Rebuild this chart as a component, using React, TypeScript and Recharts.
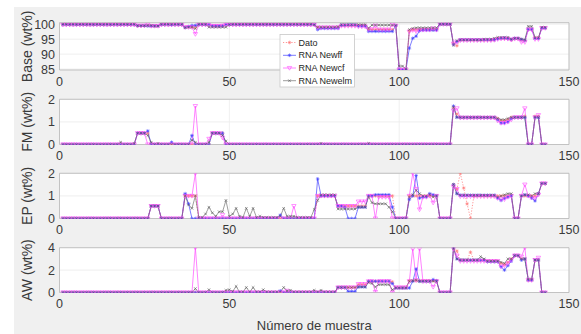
import React from 'react';
import { LineChart, Line, XAxis, YAxis, CartesianGrid, ReferenceArea } from 'recharts';

const FONT = '"Liberation Sans", Arial, Helvetica, sans-serif';
const W = 581;
const H = 334;
const PLOT_L = 59.5;
const PLOT_R = 569;
const YAXIS_W = 40;

const X_TICKS = [0, 50, 100, 150];
const X_LABEL = 'Número de muestra';

// ---------- Base (wt%) ----------
const BASE_DATO = [
  99.9, 99.9, 99.9, 99.9, 99.9, 99.9, 99.9, 99.9, 99.9, 99.9,
  99.9, 99.9, 99.9, 99.9, 99.9, 99.9, 99.9, 99.9, 99.9, 99.9,
  99.9, 99.9, 99.5, 99.5, 99.5, 99.5, 99.4, 99.4, 99.4, 99.9,
  99.9, 99.9, 99.9, 99.9, 99.9, 99.9, 99.0, 99.0, 99.0, 99.0,
  99.9, 99.9, 99.9, 99.9, 99.5, 99.5, 99.5, 99.5, 99.9, 99.9,
  99.9, 99.9, 99.9, 99.9, 99.9, 99.9, 99.9, 99.9, 99.9, 99.9,
  99.9, 99.9, 99.9, 99.9, 99.9, 99.9, 99.9, 99.9, 99.9, 99.9,
  99.9, 99.9, 99.9, 99.9, 99.9, 98.9, 98.9, 98.9, 98.9, 98.9,
  98.9, 98.9, 99.6, 99.6, 99.6, 99.6, 99.6, 99.5, 99.5, 99.5,
  98.2, 98.2, 98.2, 98.2, 98.2, 98.2, 98.2, 98.2, 99.5, 84.8,
  84.8, 84.8, 97.8, 98.2, 98.2, 98.2, 98.2, 98.2, 98.2, 98.2,
  98.2, 100, 100, 100, 100, 93.5, 92.8, 94.7, 94.7, 94.7,
  94.7, 94.7, 94.7, 94.7, 94.7, 94.7, 94.7, 94.8, 95.2, 95.2,
  95.2, 95.2, 94.8, 95.2, 95.2, 94.8, 94.6, 98.3, 98.3, 95.5,
  95.5, 98.7, 98.7,
];
const BASE_FF = [
  99.9, 99.9, 99.9, 99.9, 99.9, 99.9, 99.9, 99.9, 99.9, 99.9,
  99.9, 99.9, 99.9, 99.9, 99.9, 99.9, 99.9, 99.9, 99.9, 99.9,
  99.9, 99.9, 99.5, 99.5, 99.5, 99.4, 99.4, 99.4, 99.4, 99.9,
  99.9, 99.9, 99.8, 99.9, 99.9, 99.9, 98.9, 99.2, 99.6, 99.6,
  99.9, 99.9, 99.9, 99.9, 99.4, 99.4, 99.4, 99.4, 99.9, 99.9,
  99.9, 99.9, 99.9, 99.9, 99.9, 99.9, 99.9, 99.9, 99.9, 99.9,
  99.9, 99.9, 99.9, 99.9, 99.9, 99.9, 99.9, 99.9, 99.9, 99.9,
  99.9, 99.9, 99.9, 99.9, 99.9, 98.2, 98.6, 98.6, 98.6, 98.6,
  98.6, 98.6, 99.7, 99.7, 99.8, 99.8, 99.8, 99.4, 99.4, 99.4,
  97.6, 97.6, 97.6, 97.6, 97.6, 97.6, 97.6, 97.6, 99.5, 84.8,
  84.8, 84.8, 92.0, 95.3, 96.0, 97.8, 98.0, 98.0, 98.0, 98.0,
  98.0, 100, 100, 100, 100, 93.2, 94.2, 94.8, 94.8, 94.8,
  94.8, 94.8, 94.8, 94.8, 94.8, 94.8, 94.8, 94.8, 95.1, 95.3,
  95.4, 95.2, 94.9, 95.3, 95.3, 94.9, 94.6, 98.3, 98.3, 95.3,
  95.3, 98.7, 98.7,
];
const BASE_CF = [
  99.8, 99.8, 99.8, 99.8, 99.8, 99.8, 99.8, 99.8, 99.8, 99.8,
  99.8, 99.8, 99.8, 99.8, 99.8, 99.8, 99.8, 99.8, 99.8, 99.8,
  99.8, 99.8, 99.5, 99.5, 99.5, 99.8, 99.4, 99.4, 99.4, 99.8,
  99.8, 99.8, 99.8, 99.8, 99.8, 99.8, 99.0, 99.0, 99.0, 96.7,
  99.8, 99.8, 99.8, 99.6, 99.4, 99.4, 99.4, 99.5, 99.8, 99.8,
  99.8, 99.8, 99.8, 99.8, 99.8, 99.8, 99.8, 99.8, 99.8, 99.8,
  99.8, 99.8, 99.8, 99.8, 99.8, 99.8, 99.8, 99.8, 99.8, 99.8,
  99.8, 99.8, 99.8, 99.8, 99.8, 98.9, 98.9, 98.9, 98.9, 98.9,
  98.9, 98.9, 99.4, 99.4, 99.4, 99.4, 99.4, 99.2, 99.2, 99.2,
  98.3, 98.3, 99.5, 98.2, 98.2, 98.2, 98.2, 99.8, 99.5, 84.8,
  84.8, 84.8, 97.5, 98.0, 97.6, 98.0, 98.1, 98.1, 98.1, 98.6,
  98.1, 100, 100, 100, 100, 93.5, 94.0, 94.6, 94.6, 94.6,
  94.6, 94.6, 94.6, 94.6, 94.6, 94.6, 94.6, 94.7, 95.0, 95.2,
  95.2, 95.1, 94.8, 95.1, 95.1, 94.0, 94.0, 98.2, 98.2, 95.0,
  95.0, 98.7, 98.7,
];
const BASE_ELM = [
  100, 100, 100, 100, 100, 100, 100, 100, 100, 100,
  100, 100, 100, 100, 100, 100, 100, 100, 100, 100,
  100, 100, 99.5, 99.5, 99.5, 99.6, 99.6, 99.4, 99.4, 100,
  100, 100, 100, 100, 100, 100, 98.8, 99.0, 99.0, 98.5,
  100, 100, 100, 99.0, 99.0, 99.0, 99.0, 99.0, 99.0, 99.9,
  100, 100, 100, 100, 100, 100, 100, 100, 100, 100,
  100, 100, 100, 100, 100, 100, 100, 100, 100, 100,
  100, 100, 100, 100, 99.8, 99.0, 99.0, 99.0, 99.0, 99.0,
  99.0, 99.2, 99.9, 99.9, 99.9, 99.9, 99.9, 99.9, 99.9, 99.9,
  98.7, 99.7, 99.7, 99.7, 99.7, 99.7, 99.7, 99.7, 99.6, 86.0,
  86.0, 85.0, 98.2, 98.6, 98.8, 98.8, 98.8, 98.8, 98.8, 98.8,
  98.8, 100, 100, 100, 100, 93.0, 94.5, 94.8, 94.8, 94.8,
  94.8, 94.8, 94.8, 94.8, 95.0, 95.0, 95.0, 95.3, 95.6, 95.6,
  95.6, 95.6, 95.0, 95.3, 95.3, 95.0, 94.8, 99.3, 99.3, 95.5,
  95.5, 99.0, 99.0,
];

// ---------- FM (wt%) ----------
const FM_DATO = [
  0, 0, 0, 0, 0, 0, 0, 0, 0, 0,
  0, 0, 0, 0, 0, 0, 0, 0, 0, 0,
  0, 0, 0.5, 0.5, 0.5, 0.5, 0, 0, 0, 0,
  0, 0, 0, 0, 0, 0, 0, 0, 0, 0,
  0, 0, 0, 0, 0.5, 0.5, 0.5, 0.5, 0, 0,
  0, 0, 0, 0, 0, 0, 0, 0, 0, 0,
  0, 0, 0, 0, 0, 0, 0, 0, 0, 0,
  0, 0, 0, 0, 0, 0, 0, 0, 0, 0,
  0, 0, 0, 0, 0, 0, 0, 0, 0, 0,
  0, 0, 0, 0, 0, 0, 0, 0, 0, 0,
  0, 0, 0, 0, 0, 0, 0, 0, 0, 0,
  0, 0, 0, 0, 0, 1.65, 1.35, 1.2, 1.2, 1.2,
  1.2, 1.2, 1.2, 1.2, 1.2, 1.2, 1.2, 1.2, 1.15, 1.05,
  1.05, 1.1, 1.2, 1.2, 1.2, 1.2, 1.25, 0, 0, 1.25,
  1.25, 0, 0,
];
const FM_FF = [
  0, 0, 0, 0, 0, 0, 0, 0, 0, 0,
  0, 0, 0, 0, 0, 0, 0, 0, 0, 0,
  0, 0, 0.5, 0.5, 0.5, 0.6, 0, 0, 0, 0,
  0, 0, 0.1, 0, 0, 0, 0, 0, 0.4, 0,
  0, 0, 0, 0, 0.5, 0.5, 0.5, 0.5, 0, 0,
  0, 0, 0, 0, 0, 0, 0, 0, 0, 0,
  0, 0, 0, 0, 0, 0, 0, 0, 0, 0,
  0, 0, 0, 0, 0, 0, 0, 0, 0, 0,
  0, 0, 0, 0, 0, 0, 0, 0, 0, 0,
  0, 0, 0, 0, 0, 0, 0, 0, 0, 0,
  0, 0, 0, 0, 0, 0, 0, 0, 0, 0,
  0, 0, 0, 0, 0, 1.7, 1.2, 1.2, 1.2, 1.2,
  1.2, 1.2, 1.2, 1.2, 1.2, 1.2, 1.2, 1.2, 1.1, 0.95,
  0.95, 1.0, 1.15, 1.2, 1.2, 1.2, 1.2, 0, 0, 1.2,
  1.2, 0, 0,
];
const FM_CF = [
  0, 0, 0, 0, 0, 0, 0, 0, 0, 0,
  0, 0, 0, 0, 0, 0, 0, 0, 0, 0,
  0, 0, 0.5, 0.5, 0.5, 0, 0, 0, 0, 0,
  0, 0, 0, 0, 0, 0, 0, 0, 0, 1.7,
  0, 0, 0, 0.25, 0.5, 0.5, 0.5, 0.3, 0, 0,
  0, 0, 0, 0, 0, 0, 0, 0, 0, 0,
  0, 0, 0, 0, 0, 0, 0, 0, 0, 0,
  0, 0, 0, 0, 0, 0, 0, 0, 0, 0,
  0, 0, 0, 0, 0, 0, 0, 0, 0, 0,
  0, 0, 0, 0, 0, 0, 0, 0, 0, 0,
  0, 0, 0, 0, 0, 0, 0, 0, 0, 0,
  0, 0, 0, 0, 0, 1.5, 1.6, 1.18, 1.18, 1.18,
  1.18, 1.18, 1.18, 1.18, 1.18, 1.18, 1.18, 1.18, 1.05, 0.95,
  0.95, 1.0, 1.1, 1.2, 1.2, 1.2, 1.6, 0, 0, 1.2,
  1.3, 0, 0,
];
const FM_ELM = [
  0, 0, 0, 0, 0, 0, 0, 0, 0, 0,
  0, 0, 0, 0, 0, 0, 0, 0.1, 0, 0,
  0, 0.05, 0.5, 0.5, 0.5, 0.4, 0.1, 0, 0.05, 0,
  0, 0, 0, 0, 0, 0, 0, 0, 0.2, 0.1,
  0, 0, 0, 0.1, 0.5, 0.5, 0.5, 0.4, 0.15, 0,
  0, 0, 0, 0, 0, 0, 0, 0, 0, 0,
  0, 0, 0, 0, 0, 0, 0, 0, 0, 0,
  0, 0, 0, 0, 0, 0, 0.05, 0, 0, 0,
  0, 0, 0, 0, 0, 0, 0, 0, 0, 0,
  0.05, 0, 0, 0, 0, 0, 0, 0, 0, 0,
  0, 0, 0, 0, 0, 0, 0, 0, 0, 0,
  0, 0, 0, 0, 0, 1.65, 1.2, 1.2, 1.2, 1.2,
  1.2, 1.2, 1.2, 1.2, 1.2, 1.2, 1.2, 1.2, 1.15, 1.1,
  1.1, 1.15, 1.2, 1.2, 1.2, 1.2, 1.2, 0, 0, 1.2,
  1.2, 0, 0,
];

// ---------- EP (wt%) ----------
const EP_DATO = [
  0, 0, 0, 0, 0, 0, 0, 0, 0, 0,
  0, 0, 0, 0, 0, 0, 0, 0, 0, 0,
  0, 0, 0, 0, 0, 0, 0.55, 0.55, 0.55, 0,
  0, 0, 0, 0, 0, 0, 1, 1, 1, 1,
  0, 0, 0, 0, 0, 0, 0, 0, 0, 0,
  0, 0, 0, 0, 0, 0, 0, 0, 0, 0,
  0, 0, 0, 0, 0, 0, 0, 0, 0, 0,
  0, 0, 0, 0, 0, 1, 1, 1, 1, 1,
  1, 0.55, 0.55, 0.55, 0.55, 0.55, 0.55, 0.55, 0.55, 0.55,
  1, 1, 1, 1, 1, 1, 1, 1, 0, 0,
  0, 0, 1, 1, 1, 1, 1, 1, 1, 1,
  1, 0, 0, 0, 0, 1.5, 1.3, 2.0, 1.35, 0.65,
  0, 1, 1, 1, 1, 1, 1, 1, 1, 1,
  1, 1, 1, 0, 0, 1, 1, 1, 1, 1,
  1.1, 1.55, 1.55,
];
const EP_FF = [
  0, 0, 0, 0, 0, 0, 0, 0, 0, 0,
  0, 0, 0, 0, 0, 0, 0, 0, 0, 0,
  0, 0, 0, 0, 0, 0, 0.55, 0.55, 0.55, 0,
  0, 0, 0, 0, 0, 0, 1.1, 0.65, 0, 0,
  0, 0, 0, 0, 0, 0, 0, 0, 0, 0,
  0, 0, 0, 0, 0, 0, 0, 0, 0, 0,
  0, 0, 0, 0, 0.15, 0, 0, 0, 0, 0,
  0, 0, 0, 0, 0, 1.75, 1, 1, 1, 1,
  1, 0.55, 0.55, 0.5, 0, 0, 0, 0.5, 0.5, 0.5,
  1, 1, 1.05, 1.05, 1.05, 1.05, 1.05, 0.5, 0, 0,
  0, 0, 0.85, 1.0, 1.9, 0.9, 0.95, 0.95, 1.1, 1.05,
  1, 0, 0, 0, 0, 1.5, 1.1, 1.03, 1.03, 1.03,
  1.03, 1.03, 1.03, 1.03, 1.03, 1.03, 1.03, 1.03, 0.9, 0.8,
  0.9, 0.95, 1.0, 0, 0, 1.0, 1.05, 1.0, 0.9, 0.78,
  1.1, 1.55, 1.55,
];
const EP_CF = [
  0, 0, 0, 0, 0, 0, 0, 0, 0, 0,
  0, 0, 0, 0, 0, 0, 0, 0, 0, 0,
  0, 0, 0, 0, 0, 0, 0.55, 0.55, 0.55, 0,
  0, 0, 0, 0, 0, 0, 1, 1, 1, 2.0,
  0, 0, 0, 0, 0, 0, 0, 0.15, 0, 0,
  0, 0, 0, 0, 0, 0, 0, 0, 0, 0,
  0, 0, 0, 0, 0, 0, 0, 0, 0.55, 0,
  0, 0, 0, 0, 0, 1, 1, 1, 1, 1,
  1, 0.55, 0.55, 0.55, 0.55, 0.55, 0.55, 0.75, 0.75, 0.75,
  1, 1, 0, 0.95, 0.95, 0.95, 0.95, 0, 0, 0,
  0, 0, 1.0, 2.0, 1.3, 0.4, 0.95, 0.95, 1.0, 0.7,
  1, 0, 0, 0, 0, 1.4, 1.3, 0.98, 0.98, 0.98,
  0.98, 0.98, 0.98, 0.98, 0.98, 0.98, 0.98, 0.98, 0.9, 0.85,
  0.85, 0.95, 1.0, 0, 0, 1.0, 1.5, 1.0, 0.93, 0.9,
  1.05, 1.55, 1.55,
];
const EP_ELM = [
  0, 0, 0, 0, 0, 0, 0, 0, 0, 0,
  0, 0, 0, 0, 0, 0, 0, 0, 0, 0,
  0, 0, 0, 0, 0, 0, 0.55, 0.55, 0.55, 0,
  0, 0, 0, 0, 0, 0, 1.0, 0.6, 0.45, 1.0,
  0.05, 0.05, 0.2, 0.5, 0.25, 0.1, 0.3, 0.3, 0.8, 0.1,
  0.2, 0.45, 0.1, 0.05, 0.45, 0.1, 0.45, 0.05, 0.1, 0.05,
  0.05, 0.05, 0.05, 0.05, 0.1, 0.45, 0.1, 0.1, 0.1, 0.05,
  0.05, 0.05, 0.05, 0.05, 0.4, 0.8, 1.05, 1.05, 1.05, 1.05,
  1.05, 0.42, 0.42, 0.42, 0.42, 0.42, 0.42, 0.5, 0.5, 0.5,
  0.95, 0.7, 0.65, 0.65, 0.65, 0.65, 0.5, 0.3, 0, 0,
  0, 0, 0.95, 1.05, 1.25, 1.1, 1.0, 1.0, 1.05, 0.95,
  1.0, 0, 0, 0, 0, 1.5, 1.1, 1.03, 1.03, 1.03,
  1.03, 1.03, 1.03, 1.03, 1.03, 1.03, 1.03, 1.03, 0.95, 1.0,
  1.05, 1.1, 1.1, 0, 0, 1.0, 1.05, 1.05, 1.0, 1.1,
  1.1, 1.55, 1.55,
];

// ---------- AW (wt%) ----------
const AW_DATO = [
  0, 0, 0, 0, 0, 0, 0, 0, 0, 0,
  0, 0, 0, 0, 0, 0, 0, 0, 0, 0,
  0, 0, 0, 0, 0, 0, 0, 0, 0, 0,
  0, 0, 0, 0, 0, 0, 0, 0, 0, 0,
  0, 0, 0, 0, 0, 0, 0, 0, 0, 0,
  0, 0, 0, 0, 0, 0, 0, 0, 0, 0,
  0, 0, 0, 0, 0, 0, 0, 0, 0, 0,
  0, 0, 0, 0, 0, 0, 0, 0, 0, 0,
  0, 0.45, 0.45, 0.45, 0.45, 0.45, 0.45, 0.7, 0.7, 0.7,
  1, 1, 1, 1, 1, 1, 1, 0.95, 0.45, 0.45,
  0.45, 0.45, 1.05, 1.05, 1.05, 1.05, 1.05, 1.05, 1.05, 1.05,
  1.05, 0, 0, 0, 0, 4.0, 3.7, 2.9, 2.9, 2.9,
  3.6, 2.9, 2.9, 2.9, 2.9, 2.8, 2.8, 2.8, 2.8, 2.6,
  2.5, 2.7, 3.0, 3.3, 3.3, 3.0, 3.0, 1.1, 1.1, 2.9,
  2.9, 0, 0,
];
const AW_FF = [
  0, 0, 0, 0, 0, 0, 0, 0, 0, 0,
  0, 0, 0, 0, 0, 0, 0, 0, 0, 0,
  0, 0, 0, 0, 0, 0, 0, 0, 0, 0,
  0, 0, 0, 0, 0, 0, 0, 0, 0, 0,
  0, 0, 0, 0, 0, 0, 0, 0, 0, 0,
  0, 0, 0, 0, 0, 0, 0, 0, 0, 0,
  0, 0, 0, 0, 0.15, 0, 0, 0, 0, 0,
  0, 0, 0, 0, 0, 0, 0, 0, 0, 0,
  0, 0.45, 0.45, 0.45, 0.1, 0.1, 0.1, 0.5, 0.5, 0.5,
  1, 1, 1, 1, 1, 1, 1, 0.8, 0.4, 0.4,
  0.4, 0.4, 0.4, 1.0, 2.1, 1.0, 1.0, 1.0, 1.0, 1.15,
  1.05, 0, 0, 0, 0, 4.0, 3.0, 2.9, 2.9, 2.9,
  2.9, 2.9, 2.9, 2.9, 2.9, 2.75, 2.75, 2.75, 2.75, 2.3,
  2.0, 2.4, 2.8, 3.3, 3.3, 2.9, 3.0, 1.1, 1.1, 2.9,
  2.9, 0, 0,
];
const AW_CF = [
  0, 0, 0, 0, 0, 0, 0, 0, 0, 0,
  0, 0, 0, 0, 0, 0, 0, 0, 0, 0,
  0, 0, 0, 0, 0, 0, 0, 0, 0, 0,
  0, 0, 0, 0, 0, 0, 0, 0, 0, 4.0,
  0, 0, 0, 0, 0, 0, 0, 0, 0, 0,
  0, 0, 0, 0, 0, 0, 0, 0, 0, 0,
  0, 0, 0, 0, 0, 0, 0.15, 0, 0, 0,
  0, 0, 0, 0, 0, 0, 0, 0, 0, 0,
  0, 0.45, 0.45, 0.45, 0.45, 0.45, 0.45, 0.75, 0.75, 0.75,
  1, 1, 0.05, 1, 1, 1, 1, 0, 0.45, 0.45,
  0.45, 0.45, 1.0, 3.9, 1.1, 3.9, 1.0, 1.0, 1.0, 0.5,
  1.0, 0, 0, 0, 0, 3.9, 3.3, 2.8, 2.8, 2.8,
  2.8, 2.8, 2.8, 2.8, 2.8, 2.8, 2.8, 2.8, 2.8, 2.3,
  2.4, 2.6, 2.9, 3.3, 3.3, 3.2, 4.0, 1.1, 1.1, 2.9,
  3.1, 0, 0,
];
const AW_ELM = [
  0, 0, 0, 0, 0, 0, 0, 0, 0, 0,
  0, 0, 0, 0, 0, 0, 0, 0, 0, 0,
  0, 0, 0, 0, 0, 0, 0, 0, 0, 0,
  0, 0, 0, 0, 0, 0, 0, 0, 0, 0.35,
  0, 0, 0, 0.25, 0, 0, 0, 0, 0.2, 0.25,
  0.1, 0.55, 0.05, 0.05, 0.45, 0.05, 0.45, 0.05, 0.05, 0.25,
  0.05, 0.05, 0.05, 0.05, 0.05, 0.45, 0.15, 0.2, 0.05, 0.05,
  0.05, 0.05, 0.05, 0.05, 0.2, 0.05, 0.2, 0.05, 0.05, 0.05,
  0.05, 0.45, 0.45, 0.45, 0.45, 0.45, 0.45, 0.5, 0.5, 0.5,
  0.9, 0.8, 0.5, 0.7, 0.7, 0.7, 0.7, 0.25, 0.4, 0.4,
  0.4, 0.4, 1.0, 1.05, 1.1, 1.0, 1.0, 1.0, 1.0, 1.0,
  1.0, 0, 0, 0, 0, 3.95, 3.0, 2.9, 2.9, 2.9,
  2.9, 2.9, 2.9, 3.2, 3.0, 2.8, 2.8, 2.8, 2.8, 2.7,
  2.6, 3.0, 3.0, 3.3, 3.3, 3.0, 3.0, 1.2, 1.2, 2.9,
  2.9, 0, 0,
];

type Marker = 'star' | 'tri' | 'x';
const SERIES: { key: string; name: string; color: string; dash?: string; marker: Marker; width: number }[] = [
  { key: 'dato', name: 'Dato', color: '#ff7b7b', dash: '1.2 1.6', marker: 'star', width: 0.8 },
  { key: 'ff', name: 'RNA Newff', color: '#4343ff', marker: 'star', width: 0.7 },
  { key: 'cf', name: 'RNA Newcf', color: '#ff4dff', marker: 'tri', width: 0.7 },
  { key: 'elm', name: 'RNA Newelm', color: '#5c5c5c', marker: 'x', width: 0.6 },
];

function buildRows(d: number[], ff: number[], cf: number[], elm: number[]) {
  return d.map((v, i) => ({ x: i + 1, dato: v, ff: ff[i], cf: cf[i], elm: elm[i] }));
}

const PANELS = [
  { label: 'Base (wt%)', rows: buildRows(BASE_DATO, BASE_FF, BASE_CF, BASE_ELM), domain: [84.7, 100.5], ticks: [85, 90, 95, 100], top: 22.7, bottom: 70 },
  { label: 'FM (wt%)', rows: buildRows(FM_DATO, FM_FF, FM_CF, FM_ELM), domain: [0, 2], ticks: [0, 1, 2], top: 99.3, bottom: 144.5 },
  { label: 'EP (wt%)', rows: buildRows(EP_DATO, EP_FF, EP_CF, EP_ELM), domain: [0, 2], ticks: [0, 1, 2], top: 173.3, bottom: 218.5 },
  { label: 'AW (wt%)', rows: buildRows(AW_DATO, AW_FF, AW_CF, AW_ELM), domain: [0, 4], ticks: [0, 2, 4], top: 247.7, bottom: 292.5 },
];

function markerShape(marker: Marker, color: string, cx: number, cy: number, key?: any) {
  if (marker === 'tri') {
    const r = 2.2;
    return (
      <path key={key} d={`M${cx - r},${cy - r * 0.7}L${cx + r},${cy - r * 0.7}L${cx},${cy + r}Z`} fill="none" stroke={color} strokeWidth={0.6} />
    );
  }
  if (marker === 'x') {
    const r = 1.3;
    return (
      <path key={key} d={`M${cx - r},${cy - r}L${cx + r},${cy + r}M${cx - r},${cy + r}L${cx + r},${cy - r}`} stroke={color} strokeWidth={0.6} fill="none" />
    );
  }
  const r = 1.8;
  const k = r * 0.7;
  return (
    <path
      key={key}
      d={`M${cx - r},${cy}H${cx + r}M${cx},${cy - r}V${cy + r}M${cx - k},${cy - k}L${cx + k},${cy + k}M${cx - k},${cy + k}L${cx + k},${cy - k}`}
      stroke={color}
      strokeWidth={0.6}
      fill="none"
    />
  );
}

const makeDot = (marker: Marker, color: string) => (props: any) => {
  const { cx, cy, index } = props;
  if (cx == null || cy == null) return <g key={`e${index}`} />;
  return markerShape(marker, color, cx, cy, `d${index}`);
};

function Panel({ p }: { p: (typeof PANELS)[number] }) {
  const xAxisH = 20;
  return (
    <div style={{ position: 'absolute', left: 0, top: 0, width: W, height: H }}>
      <LineChart
        width={W}
        height={H}
        data={p.rows}
        margin={{ top: p.top, bottom: H - p.bottom - xAxisH, left: PLOT_L - YAXIS_W, right: W - PLOT_R }}
      >
        <CartesianGrid stroke="#ebebeb" strokeWidth={0.8} fill="#ffffff" />
        <XAxis
          type="number"
          dataKey="x"
          domain={[0, 150]}
          ticks={X_TICKS}
          allowDecimals={false}
          tickLine={false}
          axisLine={false}
          tickSize={0}
          tickMargin={7}
          height={xAxisH}
          interval={0}
          tick={{ fontSize: 12.5, fill: '#3a3a3a', fontFamily: FONT }}
        />
        <YAxis
          type="number"
          domain={p.domain}
          ticks={p.ticks}
          allowDataOverflow
          tickLine={false}
          axisLine={false}
          tickSize={0}
          tickMargin={4.5}
          width={YAXIS_W}
          interval={0}
          tick={{ fontSize: 12.5, fill: '#3a3a3a', fontFamily: FONT }}
        />
        {SERIES.map((s) => (
          <Line
            key={s.key}
            type="linear"
            dataKey={s.key}
            stroke={s.color}
            strokeWidth={s.width}
            strokeDasharray={s.dash}
            dot={makeDot(s.marker, s.color)}
            activeDot={false}
            isAnimationActive={false}
          />
        ))}
        <ReferenceArea
          x1={0}
          x2={150}
          y1={p.domain[0]}
          y2={p.domain[1]}
          fill="#ffffff"
          fillOpacity={0}
          stroke="#b8b8b8"
          strokeWidth={0.8}
          ifOverflow="visible"
        />
      </LineChart>
    </div>
  );
}

function LegendBox() {
  const rowY = [42.5, 55.3, 68, 80.7];
  return (
    <svg style={{ position: 'absolute', left: 0, top: 0 }} width={W} height={H}>
      <rect x={280} y={34.5} width={74.5} height={52.5} fill="#ffffff" stroke="#c8c8c8" strokeWidth={0.8} />
      {SERIES.map((s, i) => (
        <g key={s.key}>
          <line x1={283} x2={296} y1={rowY[i]} y2={rowY[i]} stroke={s.color} strokeWidth={s.width} strokeDasharray={s.dash} />
          {markerShape(s.marker, s.color, 289.5, rowY[i])}
          <text x={298.5} y={rowY[i]} dy="0.35em" fontSize={9} fill="#262626" fontFamily={FONT}>
            {s.name}
          </text>
        </g>
      ))}
    </svg>
  );
}

function Labels() {
  return (
    <svg style={{ position: 'absolute', left: 0, top: 0 }} width={W} height={H}>
      {PANELS.map((p) => {
        const cy = (p.top + p.bottom) / 2;
        return (
          <text
            key={p.label}
            x={27}
            y={cy}
            transform={`rotate(-90 27 ${cy})`}
            textAnchor="middle"
            dy="0.35em"
            fontSize={14}
            fill="#3a3a3a"
            fontFamily={FONT}
          >
            {p.label}
          </text>
        );
      })}
      <text x={(PLOT_L + PLOT_R) / 2} y={330} textAnchor="middle" fontSize={13} fill="#3a3a3a" fontFamily={FONT}>
        {X_LABEL}
      </text>
    </svg>
  );
}

export default function App() {
  return (
    <div style={{ position: 'absolute', left: 0, top: 0, width: W, height: H, background: '#ffffff', overflow: 'hidden' }}>
      <div style={{ position: 'absolute', left: 14, top: 7, width: W - 14, height: H - 7, background: '#f0f0f0' }} />
      {PANELS.map((p) => (
        <Panel key={p.label} p={p} />
      ))}
      <Labels />
      <LegendBox />
    </div>
  );
}
